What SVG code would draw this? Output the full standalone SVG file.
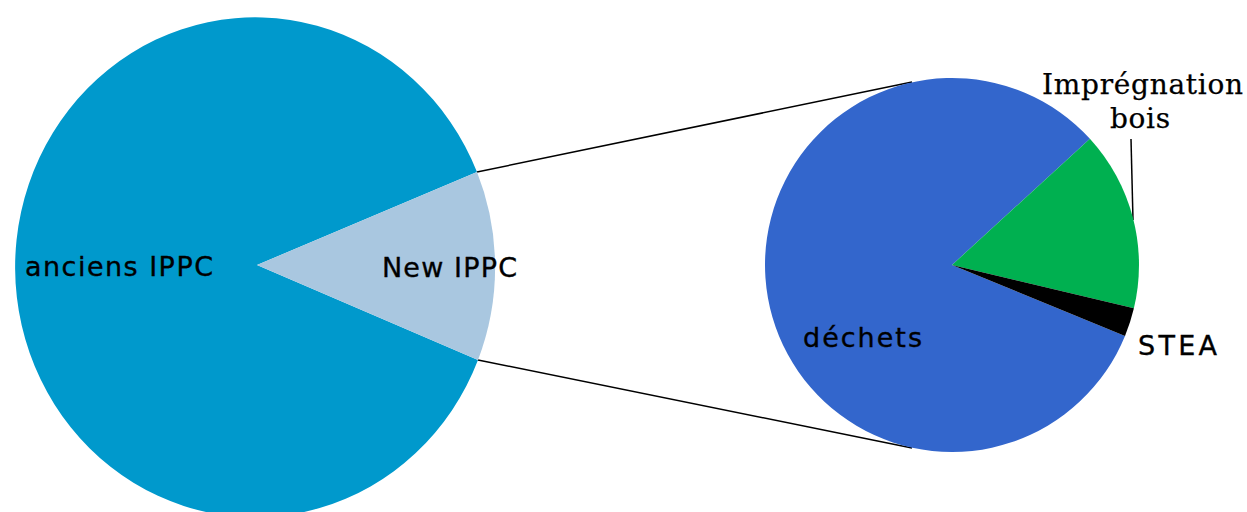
<svg xmlns="http://www.w3.org/2000/svg" width="1247" height="512" viewBox="0 0 1247 512">
<style>
.lbl{font-family:"DejaVu Sans","Verdana",sans-serif;font-size:27px;fill:#000;stroke:#000;stroke-width:0.35}
.ser{font-family:"DejaVu Serif","Liberation Serif",serif;font-size:28px;fill:#000;stroke:#000;stroke-width:0.25}
.conn{stroke:#000;stroke-width:1.5;fill:none}
</style>
<rect width="1247" height="512" fill="#fff"/>
<g id="connectors">
<line class="conn" x1="477" y1="172" x2="912" y2="82"/>
<line class="conn" x1="478" y1="360" x2="912" y2="448"/>
<line class="conn" x1="1131" y1="139" x2="1133" y2="220"/>
</g>
<g id="pie-main">
<path id="anciens" d="M257,265 L477,172 A240,250 0 1,0 478,360 Z" fill="#0099CC"/>
<path id="new" d="M257,265 L477,172 A240,250 0 0,1 478,360 Z" fill="#A9C7E0"/>
<text class="lbl" x="25" y="276" textLength="188" lengthAdjust="spacing">anciens IPPC</text>
<text class="lbl" x="382" y="277" textLength="135" lengthAdjust="spacing">New IPPC</text>
</g>
<g id="pie-detail">
<path id="dechets" d="M952,265 L1125,336 A187,187 0 1,1 1089.9,138.7 Z" fill="#3366CC"/>
<path id="impregnation" d="M952,265 L1089.9,138.7 A187,187 0 0,1 1133.9,308.3 Z" fill="#00B050"/>
<path id="stea" d="M952,265 L1133.9,308.3 A187,187 0 0,1 1125,336 Z" fill="#000"/>
<text class="lbl" x="803" y="347" textLength="119" lengthAdjust="spacing">déchets</text>
<text class="lbl" x="1138" y="355" textLength="79" lengthAdjust="spacing">STEA</text>
<text class="ser" x="1042" y="94" textLength="201" lengthAdjust="spacing">Imprégnation</text>
<text class="ser" x="1110" y="128" textLength="60" lengthAdjust="spacing">bois</text>
</g>
</svg>
